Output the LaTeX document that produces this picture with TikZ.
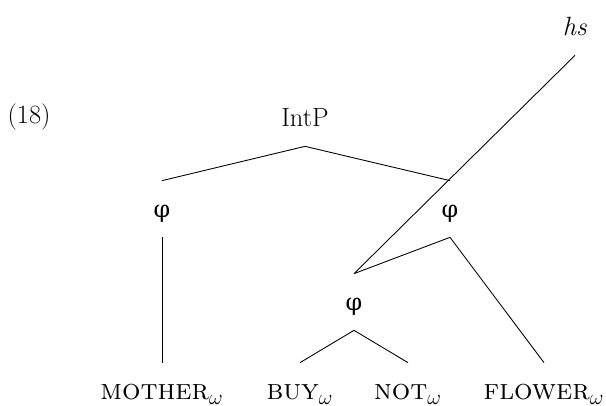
\documentclass[tikz,border=0pt]{standalone}
\usepackage{fontspec}
\newfontfamily\grk[Scale=0.9]{DejaVu Serif}

\begin{document}
\begin{tikzpicture}[every node/.style={font=\fontsize{15}{18}\selectfont},
  cat/.style={inner sep=0pt,text height=0.4cm,text depth=0.05cm,minimum height=1.12cm},
  word/.style={cat,font=\fontsize{16.5}{19}\selectfont}]
\useasboundingbox (0,0) rectangle (12.12,8.12);
\node (9) at (0.58,5.78) {(18)};
\node[cat] (0) at (6.10,5.76) {IntP};
\node[cat] (1) at (11.50,7.58) {\textit{hs}};
\node[cat] (2) at (3.24,3.94) {\grk φ};
\node[cat] (3) at (9.00,3.94) {\grk φ};
\node[cat] (4) at (7.08,2.08) {\grk φ};
\node[word] (5) at (3.24,0.30) {\textsc{mother}$_\omega$};
\node[word] (6) at (6.00,0.30) {\textsc{buy}$_\omega$};
\node[word] (7) at (8.16,0.30) {\textsc{not}$_\omega$};
\node[word] (8) at (10.88,0.30) {\textsc{flower}$_\omega$};

\path [draw=black,line width=0.5pt] (0.south) edge node {} (2.north);
\path [draw=black,line width=0.5pt] (0.south) edge node {} (3.north);
\path [draw=black,line width=0.5pt] (2.south) edge node {} (5.north);
\path [draw=black,line width=0.5pt] (3.south) edge node {} (4.north);
\path [draw=black,line width=0.5pt] (3.south) edge node {} (8.north);
\path [draw=black,line width=0.5pt] (4.south) edge node {} (6.north);
\path [draw=black,line width=0.5pt] (4.south) edge node {} (7.north);
\path [draw=black,line width=0.5pt] (1.south) edge node {} (4.north);
\end{tikzpicture}
\end{document}
